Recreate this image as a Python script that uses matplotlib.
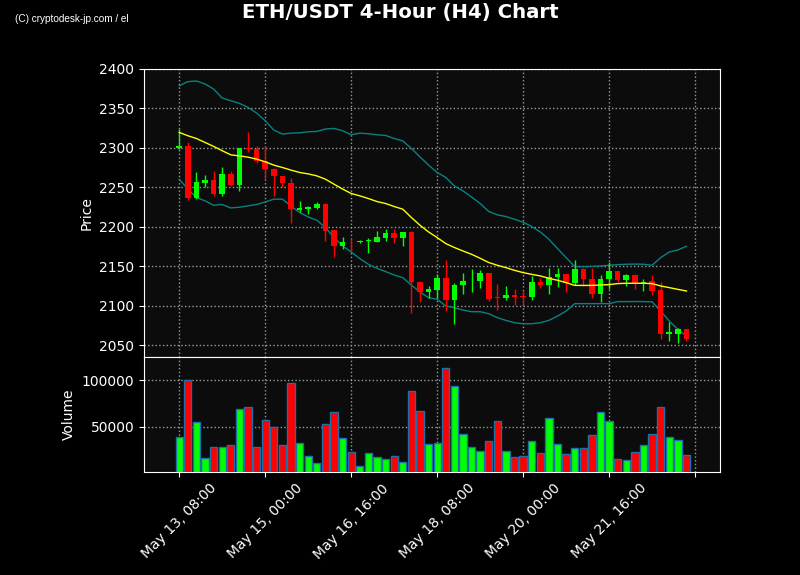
import numpy as np
import pandas as pd
import matplotlib
matplotlib.use("Agg")
import matplotlib.pyplot as plt

# --- data (4h candles starting May 13, 08:00) ---
opens = [2300, 2302, 2237, 2255.5, 2259, 2241.5, 2267, 2253, 2300, 2299,
         2284, 2274, 2264.7, 2256, 2222, 2222.5, 2224, 2229, 2195.8, 2176,
         2181.5, 2180.5, 2182, 2181, 2185.7, 2192, 2186, 2193, 2130.3, 2118,
         2120, 2135, 2107.5, 2126, 2131, 2131.5, 2141.3, 2111, 2109.5, 2113.5,
         2112, 2111.3, 2130.5, 2126, 2137, 2140, 2128.5, 2146.4, 2134.6, 2114.7,
         2133.5, 2144, 2133, 2139, 2128, 2131.5, 2120, 2064, 2065, 2071]
highs = [2324, 2307.8, 2269, 2265.6, 2270.3, 2275.3, 2271, 2300, 2319.7, 2302,
         2302, 2274.5, 2265, 2261.4, 2233, 2226.7, 2232.2, 2230, 2196, 2187.8,
         2185, 2184, 2185.7, 2195, 2198, 2198, 2194, 2195, 2131.6, 2125.3,
         2140, 2157.8, 2128.6, 2142, 2147, 2145.6, 2141.5, 2127.4, 2125, 2121,
         2119, 2138, 2135.9, 2148.5, 2148.5, 2141, 2157.8, 2147.7, 2148.5, 2138.8,
         2155.7, 2144.5, 2141, 2141, 2133.7, 2138.8, 2130, 2079.5, 2071.5, 2071.2]
lows = [2299, 2234.3, 2236, 2250.8, 2238.6, 2239.4, 2252, 2245.7, 2294.4, 2280.4,
        2260.5, 2238.6, 2250.7, 2205.6, 2219, 2216, 2223, 2182.3, 2162.5, 2172.7,
        2169.7, 2180, 2167.5, 2181, 2182.3, 2179.4, 2176, 2091.5, 2105.5, 2109.6,
        2109.6, 2093.5, 2077.5, 2114.7, 2118, 2123.2, 2106, 2094.4, 2107, 2101,
        2101.3, 2107, 2123.2, 2114.7, 2124, 2118, 2127, 2125, 2110.6, 2105.5,
        2121, 2130, 2125, 2122, 2119, 2113.3, 2057.6, 2056, 2053, 2056]
closes = [2302, 2236.8, 2256.3, 2259.3, 2241.5, 2266.9, 2252.9, 2299.8, 2298.5, 2283.7,
          2273.2, 2264.7, 2256.1, 2222.5, 2224, 2225.5, 2228.8, 2195, 2176, 2181,
          2180.5, 2182.5, 2183, 2187.7, 2192, 2186, 2193.3, 2130.3, 2118, 2121,
          2135, 2107.5, 2126, 2131, 2132, 2141.3, 2109.4, 2110, 2113.5, 2111.3,
          2111.3, 2130.5, 2126, 2137, 2140, 2128.5, 2146.4, 2134.6, 2114.7, 2133.7,
          2144, 2133, 2139, 2128, 2130.5, 2119, 2064, 2067, 2071.2, 2057.6]
volumes = [39000, 100700, 55000, 16700, 28400, 28400, 30500, 68800, 71000, 28400,
           57100, 49700, 30500, 97500, 32600, 18800, 11400, 52800, 65600, 38000,
           23100, 8200, 22000, 17800, 15600, 18800, 12400, 88000, 66700, 31400,
           32600, 113500, 93300, 42200, 28400, 24100, 34800, 56000, 24100, 17800,
           18800, 34800, 22000, 59300, 31600, 21000, 27300, 27300, 41200, 65600,
           56000, 15200, 14100, 23100, 30500, 42200, 71000, 39000, 35800, 19900]
ma20 = [2319.7, 2315.5, 2312, 2307, 2302, 2296.5, 2291.3, 2290, 2288.4, 2285.9,
        2282.5, 2278.3, 2275.3, 2272, 2269, 2267.2, 2264.7, 2260.5, 2254.2, 2248,
        2242.4, 2239.4, 2236, 2232.2, 2229.7, 2225.9, 2222.5, 2212, 2202.2, 2193.7,
        2186.6, 2179, 2174, 2169.6, 2165.4, 2160.4, 2155, 2151.5, 2148.5, 2145.1,
        2142.2, 2140, 2138, 2135, 2132.5, 2129.5, 2126, 2126, 2126, 2126.5,
        2127, 2128.3, 2128.7, 2128.7, 2128.7, 2128.3, 2125.3, 2123.2, 2121, 2118.9]
bb_upper = [2378.8, 2384, 2384.8, 2381, 2374.6, 2363.2, 2359.8, 2356.5, 2351.4, 2344.2,
            2334.5, 2322.7, 2317.6, 2318.8, 2319.2, 2320.5, 2321, 2324, 2324.8, 2321.8,
            2316.7, 2318.8, 2318, 2316.7, 2315.9, 2312, 2309, 2299.4, 2288.8, 2278.3,
            2269, 2262.7, 2252, 2245.7, 2238, 2229.7, 2219.6, 2215.3, 2213.2, 2209.8,
            2206, 2200.5, 2193.7, 2184.4, 2172.6, 2161.2, 2149.8, 2149.8, 2150, 2150.6,
            2151.5, 2152.3, 2152.8, 2153, 2152.8, 2151.5, 2161.2, 2168.3, 2170.9, 2175.6]
bb_lower = [2260.5, 2247.8, 2237.3, 2233, 2227.5, 2228.4, 2224.1, 2225, 2226.7, 2228.4,
            2231.7, 2235.2, 2235.2, 2226.7, 2218.3, 2212.7, 2208.5, 2199.3, 2186.6, 2176,
            2168.3, 2160, 2152.7, 2147.7, 2143.5, 2139.2, 2135.8, 2126.5, 2117.6, 2110.5,
            2108.4, 2100, 2097.8, 2094.8, 2092.7, 2092.7, 2090.2, 2085.2, 2081.7, 2078.8,
            2077.5, 2077.5, 2078.8, 2081.7, 2087.2, 2093.5, 2102.9, 2102.9, 2102.9, 2102.9,
            2102.9, 2105.5, 2105.5, 2105.6, 2105.5, 2105.2, 2093.5, 2080.9, 2070.3, 2061.8]

dates = pd.date_range("2024-05-13 08:00", periods=len(opens), freq="4h")

UP = "#00ff00"
DOWN = "#ff0000"
BG = "#0c0c0c"

fig, (ax, axv) = plt.subplots(2, 1, figsize=(8, 5.75), dpi=100, sharex=True,
                              gridspec_kw={"height_ratios": [2.5, 1]})
fig.patch.set_facecolor("black")
plt.subplots_adjust(left=0.18, right=0.9, top=0.88, bottom=0.18, hspace=0)

x = np.arange(len(opens))
colors = [UP if c >= o else DOWN for o, c in zip(opens, closes)]

# candles
for i in x:
    ax.vlines(i, lows[i], highs[i], color=colors[i], linewidth=1, zorder=3)
    lo = min(opens[i], closes[i])
    h = max(abs(closes[i] - opens[i]), 0.6)
    ax.bar(i, h, bottom=lo, width=0.65, color=colors[i], zorder=4)

ax.plot(x, ma20, color="yellow", linewidth=1, zorder=5)
ax.plot(x, bb_upper, color="#0b8080", linewidth=1, zorder=2)
ax.plot(x, bb_lower, color="#0b8080", linewidth=1, zorder=2)

# volume
axv.bar(x, volumes, width=0.85, color=colors, edgecolor="#1f6fa8", linewidth=1, zorder=3)

for a in (ax, axv):
    a.set_facecolor(BG)
    a.grid(True, color="#9a9a9a", linestyle=":", linewidth=1)
    a.set_axisbelow(True)
    for s in a.spines.values():
        s.set_color("white")
    a.tick_params(colors="white", labelsize=10)

ax.set_ylim(2036, 2400)
ax.set_yticks(np.arange(2050, 2401, 50))
ax.set_ylabel("Price", color="white", fontsize=10)
ax.tick_params(axis="x", length=0)

axv.set_ylim(2300, 125400)
axv.set_yticks([50000, 100000])
axv.set_ylabel("Volume", color="white", fontsize=10)

tick_pos = np.arange(0, 61, 10)
labels = [dates[i].strftime("%b %d, %H:%M") if i < len(dates) else "" for i in tick_pos]
axv.set_xticks(tick_pos)
axv.set_xticklabels(labels, rotation=45)
axv.set_xlim(-4.1, 62.9)

fig.suptitle("ETH/USDT 4-Hour (H4) Chart", color="white", fontsize=14.2,
             fontweight="bold", y=0.995)
fig.text(0.019, 0.962, "(C) cryptodesk-jp.com / el", color="white", fontsize=7.2,
         family="Liberation Sans")

fig.savefig("out.png", dpi=100, facecolor=fig.get_facecolor())
